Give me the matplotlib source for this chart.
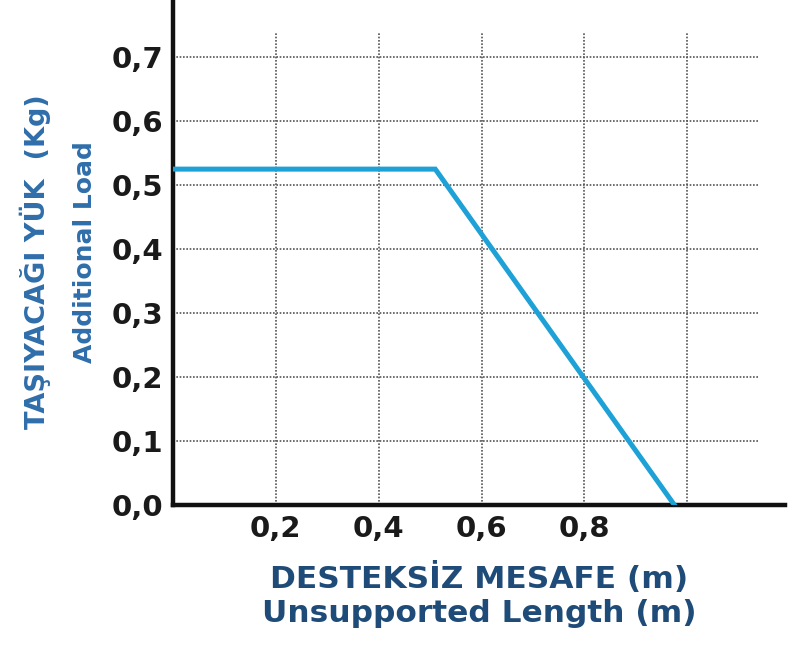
import numpy as np
import matplotlib.pyplot as plt
from matplotlib.ticker import FuncFormatter

# load curve
length_m = [0.0, 0.51, 0.975]
load_kg = [0.525, 0.525, 0.0]

xticks = [0.2, 0.4, 0.6, 0.8, 1.0]
xtick_labels = ['0,2', '0,4', '0,6', '0,8', '']
yticks = [0.0, 0.1, 0.2, 0.3, 0.4, 0.5, 0.6, 0.7]

plt.rcParams['font.family'] = ['DejaVu Sans']

fig = plt.figure(figsize=(7.95, 6.48), dpi=100)
fig.set_facecolor('w')
ax = fig.add_axes([0.2176, 0.2207, 0.7698, 0.776])

ax.set_xlim(0, 1.19)
ax.set_ylim(0, 0.786)

# dotted grid, horizontal lines stop short of the axis end
ax.hlines(yticks[1:], 0, 1.14, colors='#555555', linestyles=(0, (1, 1)), linewidth=1.2, zorder=1)
ax.vlines(xticks, 0, 0.74, colors='#555555', linestyles=(0, (1, 1)), linewidth=1.2, zorder=1)

theLines = ax.plot(length_m, load_kg, color='#1ea1d6', linewidth=3.6, solid_joinstyle='miter', zorder=3)

ax.spines['top'].set_visible(False)
ax.spines['right'].set_visible(False)
for s in ['left', 'bottom']:
    ax.spines[s].set_linewidth(3.2)
    ax.spines[s].set_color('#111111')
    ax.spines[s].set_capstyle('projecting')

ax.set_xticks(xticks)
ax.set_xticklabels(xtick_labels)
ax.set_yticks(yticks)
ax.yaxis.set_major_formatter(FuncFormatter(lambda v, p: ('%.1f' % v).replace('.', ',')))
ax.tick_params(length=0, labelsize=21, pad=7, labelcolor='#1a1a1a')
for lab in ax.get_xticklabels() + ax.get_yticklabels():
    lab.set_fontweight('bold')

ax.set_xlabel('DESTEKSİZ MESAFE (m)\nUnsupported Length (m)', fontsize=22.5,
              fontweight='bold', color='#1f4b78', labelpad=14, linespacing=1.22)

# two y label lines, placed separately
fig.text(35 / 795, 1 - 262 / 648, 'TAŞIYACAĞI YÜK  (Kg)', rotation=90, fontsize=19.5,
         fontweight='bold', color='#2f6eab', ha='center', va='center')
fig.text(85 / 795, 1 - 252 / 648, 'Additional Load', rotation=90, fontsize=18,
         fontweight='bold', color='#2f6eab', ha='center', va='center')

plt.savefig('out.png', dpi=100)
